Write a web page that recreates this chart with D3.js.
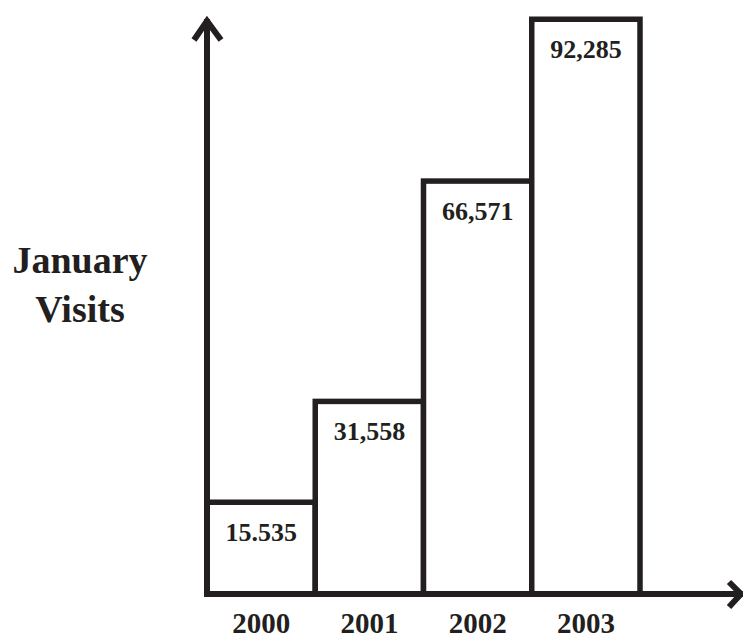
<!DOCTYPE html>
<html>
<head>
<meta charset="utf-8">
<script src="https://cdnjs.cloudflare.com/ajax/libs/d3/7.8.5/d3.min.js"></script>
<style>
  html, body { margin: 0; padding: 0; background: #fff; }
  svg { display: block; }
  text { font-family: "Liberation Serif", "Times New Roman", serif; font-weight: bold; fill: #231f20; }
</style>
</head>
<body>
<svg id="chart" width="743" height="638"></svg>
<script>
const years = ["2000", "2001", "2002", "2003"];
const visits = [15535, 31558, 66571, 92285];
const valueLabels = ["15.535", "31,558", "66,571", "92,285"];
const yTitle = ["January", "Visits"];

const W = 743, H = 638;
const ink = "#231f20";
const baseY = 594, axisX = 207;

const svg = d3.select("#chart");

const x = d3.scaleBand().domain(years).range([207, 640]).padding(0);
const y = d3.scaleLinear().domain([0, 100000]).range([600, -29.3]);

const data = years.map((yr, i) => ({ year: yr, value: visits[i], label: valueLabels[i] }));

// bars
svg.selectAll("rect.bar").data(data).join("rect")
  .attr("class", "bar")
  .attr("x", d => x(d.year))
  .attr("y", d => y(d.value))
  .attr("width", x.bandwidth())
  .attr("height", d => baseY - y(d.value))
  .attr("fill", "#fff")
  .attr("stroke", ink)
  .attr("stroke-width", 5.5);

// value labels inside bars
svg.selectAll("text.val").data(data).join("text")
  .attr("class", "val")
  .attr("x", d => x(d.year) + x.bandwidth() / 2)
  .attr("y", d => y(d.value) + 39)
  .attr("text-anchor", "middle")
  .attr("font-size", 26)
  .text(d => d.label);

// x axis labels
svg.selectAll("text.year").data(data).join("text")
  .attr("class", "year")
  .attr("x", d => x(d.year) + x.bandwidth() / 2)
  .attr("y", 633)
  .attr("text-anchor", "middle")
  .attr("font-size", 29)
  .text(d => d.year);

// axes
const axes = svg.append("g").attr("fill", "none").attr("stroke", ink)
  .attr("stroke-width", 6).attr("stroke-linecap", "square");
axes.append("path").attr("d", `M${axisX},${baseY} L${axisX},22`);
axes.append("path").attr("d", `M${axisX},${baseY} L740,${baseY}`);
axes.append("path").attr("stroke-linecap", "butt").attr("stroke-linejoin", "miter")
  .attr("d", `M${axisX - 13},40 L${axisX},21 L${axisX + 14},40`);
axes.append("path").attr("stroke-linecap", "butt").attr("stroke-linejoin", "miter")
  .attr("d", `M729,582 L741,${baseY} L729,607`);

// y title
svg.append("text")
  .attr("x", 80).attr("y", 273)
  .attr("text-anchor", "middle")
  .attr("font-size", 38)
  .selectAll("tspan").data(yTitle).join("tspan")
  .attr("x", 80)
  .attr("dy", (d, i) => i === 0 ? 0 : 49)
  .text(d => d);
</script>
</body>
</html>
